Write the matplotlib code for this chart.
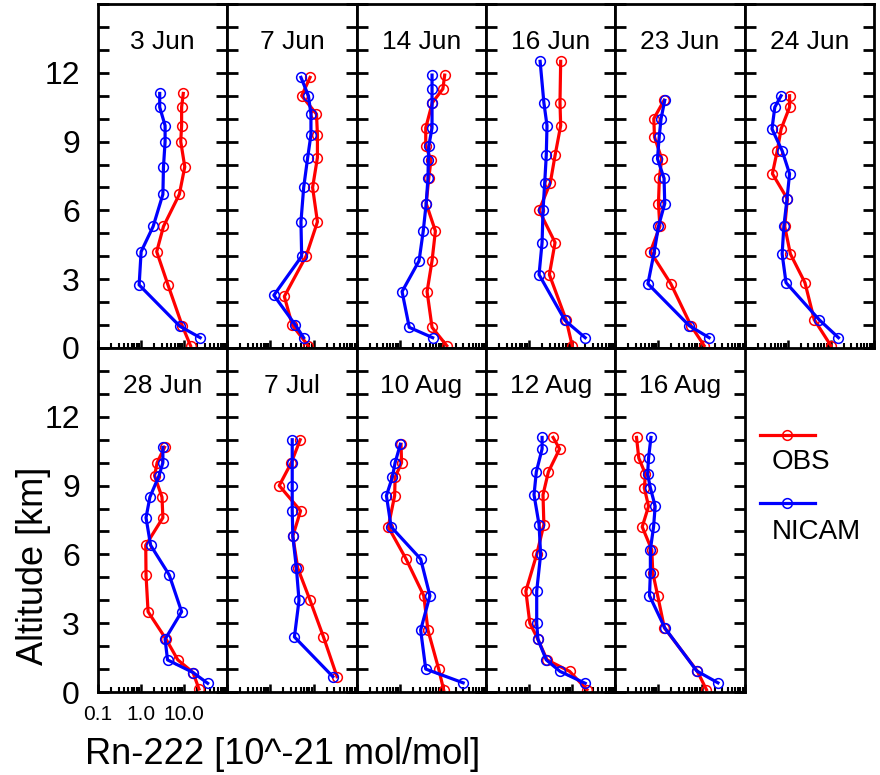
import matplotlib
matplotlib.use("Agg")
import matplotlib.pyplot as plt
from matplotlib.lines import Line2D
from matplotlib.ticker import LogLocator, MultipleLocator, NullFormatter

plt.rcParams["font.family"] = ["Liberation Sans", "DejaVu Sans"]

# Rn-222 profiles, altitude in km, mixing ratio in 10^-21 mol/mol
alt_0603 = [11.1, 10.5, 9.7, 9.0, 7.9, 6.7, 5.3, 4.2, 2.75, 0.97, 0.1]
obs_0603 = [9.5, 8.7, 8.7, 8.3, 10.3, 7.7, 3.3, 2.3, 4.2, 9.0, 14]
nalt_0603 = [11.1, 10.5, 9.7, 9.0, 7.9, 6.7, 5.3, 4.2, 2.75, 0.95, 0.45]
nicam_0603 = [2.7, 2.7, 3.6, 3.6, 3.3, 3.2, 1.9, 1.0, 0.9, 7.9, 23.5]

alt_0607 = [11.8, 11.0, 10.2, 9.3, 8.3, 7.0, 5.5, 4.0, 2.25, 1.0, 0.1]
obs_0607 = [8.3, 5.3, 11.7, 12.3, 12.3, 9.5, 12.3, 6.7, 2.1, 3.2, 7.5]
nalt_0607 = [11.8, 11.0, 10.2, 9.3, 8.3, 7.0, 5.5, 4.0, 2.3, 1.0, 0.45]
nicam_0607 = [5.1, 7.6, 8.7, 8.7, 7.3, 5.9, 5.1, 5.3, 1.2, 3.8, 5.9]

alt_0614 = [11.9, 11.3, 10.7, 9.6, 8.8, 8.2, 7.4, 6.3, 5.1, 3.8, 2.46, 0.9, 0.1]
obs_0614 = [11, 10, 5.7, 4.0, 4.0, 5.3, 4.7, 4.1, 6.7, 5.6, 4.3, 5.6, 12.3]
nalt_0614 = [11.9, 11.3, 10.7, 9.6, 8.8, 8.2, 7.4, 6.3, 5.1, 3.8, 2.46, 0.9, 0.45]
nicam_0614 = [5.6, 5.6, 5.6, 5.6, 4.7, 4.6, 4.5, 4.1, 3.5, 2.8, 1.13, 1.66, 5.8]

alt_0616 = [12.5, 10.7, 9.7, 8.4, 7.2, 6.0, 4.6, 3.2, 1.2, 0.1]
obs_0616 = [5.4, 5.2, 5.4, 4.0, 3.1, 1.7, 4.0, 2.95, 7.3, 10]
nalt_0616 = [12.5, 10.7, 9.7, 8.4, 7.2, 6.0, 4.6, 3.2, 1.2, 0.45]
nicam_0616 = [1.8, 2.2, 2.6, 2.5, 2.3, 2.1, 2.0, 1.7, 6.8, 20]

alt_0623 = [10.8, 10.0, 9.2, 8.25, 7.4, 6.3, 5.3, 4.2, 2.8, 0.97, 0.1]
obs_0623 = [1.35, 0.78, 0.81, 1.19, 1.05, 1.0, 1.08, 0.65, 1.94, 5.7, 11.5]
nalt_0623 = [10.8, 10.0, 9.2, 8.25, 7.4, 6.3, 5.3, 4.2, 2.8, 0.97, 0.45]
nicam_0623 = [1.4, 1.15, 1.04, 0.95, 1.35, 1.4, 1.0, 0.8, 0.57, 5.2, 15]

alt_0624 = [11.0, 10.5, 9.55, 8.6, 7.6, 6.5, 5.3, 4.1, 2.85, 1.24, 0.1]
obs_0624 = [1.1, 1.1, 0.7, 0.57, 0.44, 0.98, 0.85, 1.15, 2.5, 4.1, 10]
nalt_0624 = [11.0, 10.5, 9.55, 8.6, 7.6, 6.5, 5.3, 4.1, 2.85, 1.24, 0.45]
nicam_0624 = [0.70, 0.50, 0.43, 0.74, 1.1, 0.96, 0.81, 0.74, 0.91, 5.3, 15]

alt_0628 = [10.67, 10.0, 9.43, 8.5, 7.6, 6.4, 5.1, 3.5, 2.3, 1.4, 0.85, 0.13]
obs_0628 = [3.5, 2.35, 2.05, 3.05, 3.2, 1.28, 1.3, 1.45, 3.8, 7.1, 16, 22]
nalt_0628 = [10.67, 10.0, 9.43, 8.5, 7.6, 6.4, 5.1, 3.5, 2.3, 1.4, 0.85, 0.38]
nicam_0628 = [3.2, 3.2, 2.6, 1.6, 1.3, 1.66, 4.5, 8.7, 3.6, 4.1, 16, 35]

alt_0707 = [11.0, 10.0, 9.0, 7.9, 6.8, 5.4, 4.0, 2.4, 0.67]
obs_0707 = [4.9, 3.05, 1.6, 5.0, 3.3, 4.3, 8.3, 17, 35]
nalt_0707 = [11.0, 10.0, 9.0, 7.9, 6.8, 5.4, 4.0, 2.4, 0.67]
nicam_0707 = [3.2, 3.2, 3.2, 3.2, 3.3, 4.0, 4.6, 3.6, 28]

alt_0810 = [10.8, 10.0, 9.36, 8.56, 7.2, 5.8, 4.2, 2.7, 1.0, 0.1]
obs_0810 = [1.07, 1.1, 0.78, 0.76, 0.54, 1.4, 3.6, 4.5, 8.0, 10.4]
nalt_0810 = [10.8, 10.0, 9.36, 8.56, 7.2, 5.8, 4.2, 2.7, 1.0, 0.4]
nicam_0810 = [1.03, 0.78, 0.67, 0.49, 0.63, 3.05, 5.0, 3.05, 4.0, 29.5]

alt_0812 = [11.1, 10.6, 9.6, 8.6, 7.3, 6.0, 4.4, 3.0, 2.3, 1.4, 0.9, 0.1]
obs_0812 = [3.6, 5.1, 2.8, 2.1, 2.2, 1.5, 0.84, 1.04, 1.6, 2.6, 8.7, 22]
nalt_0812 = [11.1, 10.6, 9.6, 8.6, 7.3, 6.0, 4.4, 3.0, 2.3, 1.4, 0.9, 0.38]
nicam_0812 = [2.0, 2.0, 1.47, 1.3, 1.7, 1.85, 1.5, 1.5, 1.6, 2.5, 5.2, 20]

alt_0816 = [11.1, 10.2, 9.5, 8.9, 8.1, 7.2, 6.2, 5.2, 4.2, 2.8, 0.92, 0.1]
obs_0816 = [0.31, 0.35, 0.5, 0.47, 0.59, 0.42, 0.70, 0.74, 0.96, 1.37, 7.9, 13]
nalt_0816 = [11.1, 10.2, 9.5, 8.9, 8.1, 7.2, 6.2, 5.2, 4.2, 2.8, 0.92, 0.4]
nicam_0816 = [0.67, 0.59, 0.56, 0.65, 0.84, 0.77, 0.65, 0.65, 0.62, 1.4, 7.7, 24]

dates = ["3 Jun", "7 Jun", "14 Jun", "16 Jun", "23 Jun", "24 Jun",
         "28 Jun", "7 Jul", "10 Aug", "12 Aug", "16 Aug"]
profiles = [
    (alt_0603, obs_0603, nalt_0603, nicam_0603),
    (alt_0607, obs_0607, nalt_0607, nicam_0607),
    (alt_0614, obs_0614, nalt_0614, nicam_0614),
    (alt_0616, obs_0616, nalt_0616, nicam_0616),
    (alt_0623, obs_0623, nalt_0623, nicam_0623),
    (alt_0624, obs_0624, nalt_0624, nicam_0624),
    (alt_0628, obs_0628, nalt_0628, nicam_0628),
    (alt_0707, obs_0707, nalt_0707, nicam_0707),
    (alt_0810, obs_0810, nalt_0810, nicam_0810),
    (alt_0812, obs_0812, nalt_0812, nicam_0812),
    (alt_0816, obs_0816, nalt_0816, nicam_0816),
]

OBS_C = "#ff0000"
NICAM_C = "#0000ff"
LINE = dict(lw=2.3, marker="o", ms=7, mfc="none", mew=1.1)

W, H = 880, 775
fig = plt.figure(figsize=(W / 100, H / 100), dpi=100)
gs = fig.add_gridspec(2, 6, left=98 / W, right=874 / W, top=1 - 4 / H,
                      bottom=1 - 692 / H, wspace=0, hspace=0)

for i, (date, (oa, ov, na, nv)) in enumerate(zip(dates, profiles)):
    row, col = divmod(i, 6)
    ax = fig.add_subplot(gs[row, col])
    ax.plot(ov, oa, color=OBS_C, **LINE)
    ax.plot(nv, na, color=NICAM_C, **LINE)
    ax.set_xscale("log")
    ax.set_xlim(0.1, 100)
    ax.set_ylim(0, 15)
    for s in ax.spines.values():
        s.set_linewidth(2.0)
    ax.yaxis.set_major_locator(MultipleLocator(1))
    ax.xaxis.set_major_locator(LogLocator(base=10))
    ax.xaxis.set_minor_locator(LogLocator(base=10, subs=range(2, 10)))
    ax.xaxis.set_minor_formatter(NullFormatter())
    ax.tick_params(axis="y", which="major", direction="in", left=True, right=True,
                   length=8, width=2.0, labelsize=23, pad=13)
    ax.tick_params(axis="x", which="major", direction="in", top=False,
                   length=6, width=1.8, labelsize=15, pad=9)
    ax.tick_params(axis="x", which="minor", direction="in", top=False,
                   length=3.5, width=1.5)
    if col == 0:
        ax.set_yticks(range(0, 16))
        ax.set_yticklabels([str(v) if v % 3 == 0 and v <= 12 else "" for v in range(0, 16)])
    else:
        ax.tick_params(axis="y", labelleft=False)
    if row == 1 and col == 0:
        ax.set_xticks([0.1, 1, 10])
        ax.set_xticklabels(["0.1", "1.0", "10.0"])
    else:
        ax.tick_params(axis="x", labelbottom=False)
    ax.text(0.5, 0.89, date, transform=ax.transAxes, ha="center", va="center",
            fontsize=19)

# legend in the empty slot
lax = fig.add_subplot(gs[1, 5])
lax.axis("off")
lax.set_xlim(0, 1)
lax.set_ylim(0, 1)
for y_line, y_text, color, name in [(0.746, 0.668, OBS_C, "OBS"),
                                    (0.548, 0.466, NICAM_C, "NICAM")]:
    lax.add_line(Line2D([0.116, 0.543], [y_line, y_line], color=color, lw=2.3))
    lax.add_line(Line2D([0.33], [y_line], color=color, marker="o", ms=7,
                        mfc="none", mew=1.1))
    lax.text(0.21, y_text, name, ha="left", va="center", fontsize=20)

fig.text(34 / W, 1 - 566 / H, "Altitude [km]", rotation=90, ha="center",
         va="center", fontsize=26)
fig.text(85 / W, 1 - 764 / H, "Rn-222 [10^-21 mol/mol]", ha="left",
         va="baseline", fontsize=26)

fig.savefig("out.png", dpi=100)
